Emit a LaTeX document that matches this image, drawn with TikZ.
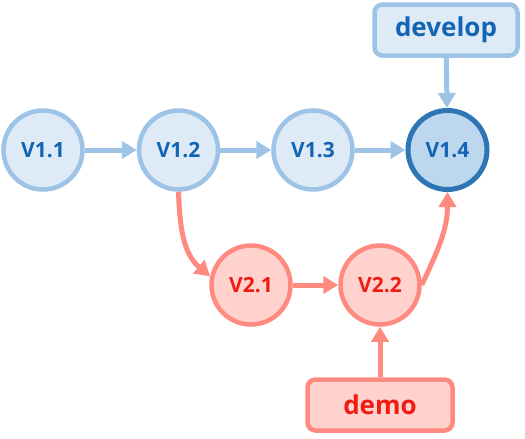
\documentclass[tikz,border=0pt]{standalone}
\usepackage{fontspec}
\setmainfont{Open Sans}
\usetikzlibrary{arrows.meta}
\definecolor{bstroke}{RGB}{157,195,230}
\definecolor{bfill}{RGB}{222,235,247}
\definecolor{btext}{RGB}{18,100,180}
\definecolor{dstroke}{RGB}{46,117,182}
\definecolor{dfill}{RGB}{189,215,238}
\definecolor{rstroke}{RGB}{255,138,128}
\definecolor{rfill}{RGB}{255,210,206}
\definecolor{rtext}{RGB}{240,28,20}
\begin{document}
\begin{tikzpicture}[x=1pt,y=-1pt,
  ver/.style={circle,minimum size=79pt,inner sep=0pt,line width=4.5pt,font=\bfseries\fontsize{21}{24}\selectfont},
  bver/.style={ver,draw=bstroke,fill=bfill,text=btext},
  dver/.style={ver,draw=dstroke,fill=dfill,text=btext,line width=5pt},
  rver/.style={ver,draw=rstroke,fill=rfill,text=rtext},
  tag/.style={rounded corners=8pt,line width=4.5pt,minimum height=51pt,font=\bfseries\fontsize{26}{30}\selectfont},
  btag/.style={tag,draw=bstroke,fill=bfill,text=btext,minimum width=143pt},
  rtag/.style={tag,draw=rstroke,fill=rfill,text=rtext,minimum width=145pt},
  barr/.style={line width=5pt,draw=bstroke,-{Triangle[length=15pt,width=17pt]}},
  rarr/.style={line width=5pt,draw=rstroke,-{Triangle[length=15pt,width=17pt]}}
]
\useasboundingbox (0,0) rectangle (525,439);
\node[bver] (v11) at (43,150) {V1.1};
\node[bver] (v12) at (178.5,150) {V1.2};
\node[bver] (v13) at (313,150) {V1.3};
\node[dver] (v14) at (447.5,150) {V1.4};
\node[rver] (v21) at (251,285) {V2.1};
\node[rver] (v22) at (380,285) {V2.2};
\node[btag] (dev) at (446,30) {develop};
\node[rtag] (demo) at (380,405) {demo};
\draw[barr] (v11) -- (v12);
\draw[barr] (v12) -- (v13);
\draw[barr] (v13) -- (v14);
\draw[barr] (dev) -- (v14);
\draw[rarr] (v12.south) to[out=-88,in=140] (v21.168);
\draw[rarr] (v21) -- (v22);
\draw[rarr] (v22.east) to[out=65,in=-90] (v14.south);
\draw[rarr] (demo) -- (v22);
\end{tikzpicture}
\end{document}
